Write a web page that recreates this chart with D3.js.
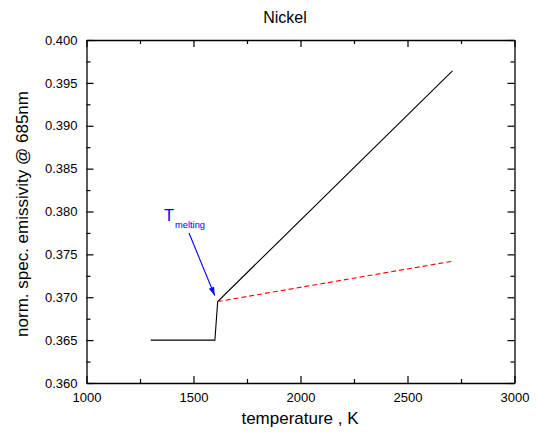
<!DOCTYPE html>
<html><head><meta charset="utf-8">
<script src="https://cdn.jsdelivr.net/npm/d3@7"></script>
<style>body{margin:0;background:#fff}svg{display:block}text{font-family:"Liberation Sans",Arial,sans-serif}</style>
</head><body>
<svg id="c" width="536" height="434"></svg>
<script>
const solidT = [1300, 1600, 1613, 2710];
const solidE = [0.365, 0.365, 0.3695, 0.3964];
const dashT = [1613, 2710];
const dashE = [0.3695, 0.3742];
const xTicks = [1000, 1500, 2000, 2500, 3000];
const yTicks = [0.360, 0.365, 0.370, 0.375, 0.380, 0.385, 0.390, 0.395, 0.400];

const svg = d3.select("#c");
const L = 86.5, R = 514.5, T = 40, B = 383;
const x = d3.scaleLinear().domain([1000, 3000]).range([L, R]);
const y = d3.scaleLinear().domain([0.360, 0.400]).range([B, T]);

const xMinor = d3.range(1250, 3000, 500);
const yMinor = d3.range(0, 8).map(i => 0.3625 + i * 0.005);

function ax(axisGen, tx, ty, major, labels) {
  const g = svg.append("g").attr("transform", `translate(${tx},${ty})`)
    .call(axisGen.tickValues(major).tickSizeInner(-7).tickSizeOuter(0).tickPadding(10));
  g.select(".domain").attr("stroke", "#000").attr("stroke-width", 1.3);
  g.selectAll(".tick line").attr("stroke", "#000").attr("stroke-width", 1.2);
  g.selectAll("text").attr("font-size", 13).attr("fill", "#000");
  if (!labels) g.selectAll("text").remove();
  return g;
}
function minorTicks(axisGen, tx, ty, vals) {
  const g = svg.append("g").attr("transform", `translate(${tx},${ty})`)
    .call(axisGen.tickValues(vals).tickSizeInner(-4).tickSizeOuter(0).tickFormat(""));
  g.select(".domain").remove();
  g.selectAll(".tick line").attr("stroke", "#000").attr("stroke-width", 1.2);
}

const xb = ax(d3.axisBottom(x).tickFormat(d3.format("d")), 0, B, xTicks, true);
xb.selectAll("text").attr("dy", null).attr("y", 19);
ax(d3.axisTop(x), 0, T, xTicks, false);
const yl = ax(d3.axisLeft(y).tickFormat(d3.format(".3f")), L, 0, yTicks, true);
yl.selectAll("text").attr("x", -9);
ax(d3.axisRight(y), R, 0, yTicks, false);
minorTicks(d3.axisBottom(x), 0, B, xMinor);
minorTicks(d3.axisTop(x), 0, T, xMinor);
minorTicks(d3.axisLeft(y), L, 0, yMinor);
minorTicks(d3.axisRight(y), R, 0, yMinor);

const line = d3.line().x(d => x(d[0])).y(d => y(d[1]));
svg.append("path").datum(solidT.map((t, i) => [t, solidE[i]]))
  .attr("d", line).attr("fill", "none").attr("stroke", "#000").attr("stroke-width", 1.1);
svg.append("path").datum(dashT.map((t, i) => [t, dashE[i]]))
  .attr("d", line).attr("fill", "none").attr("stroke", "#ff0000").attr("stroke-width", 1.1)
  .attr("stroke-dasharray", "5,3");

// annotation
svg.append("defs").append("marker").attr("id", "ah").attr("viewBox", "0 0 12 10")
  .attr("refX", 12).attr("refY", 5).attr("markerWidth", 10).attr("markerHeight", 7)
  .attr("markerUnits", "userSpaceOnUse").attr("orient", "auto")
  .append("path").attr("d", "M0,1 L12,5 L0,9 Z").attr("fill", "#0000ff");
svg.append("line").attr("x1", 189).attr("y1", 233).attr("x2", x(1613) - 3).attr("y2", y(0.3695) - 6)
  .attr("stroke", "#0000ff").attr("stroke-width", 1.1).attr("marker-end", "url(#ah)");
svg.append("text").attr("x", 164).attr("y", 221).attr("fill", "#0000ff").attr("font-size", 16.5).text("T");
svg.append("text").attr("x", 175).attr("y", 228).attr("fill", "#0000ff").attr("font-size", 9.3).text("melting");

svg.append("text").attr("x", 285).attr("y", 23).attr("text-anchor", "middle").attr("font-size", 16).text("Nickel");
svg.append("text").attr("x", 300).attr("y", 424).attr("text-anchor", "middle").attr("font-size", 17).text("temperature , K");
svg.append("text").attr("transform", "translate(28,214) rotate(-90)").attr("text-anchor", "middle")
  .attr("font-size", 17).text("norm. spec. emissivity @ 685nm");
</script>
</body></html>
